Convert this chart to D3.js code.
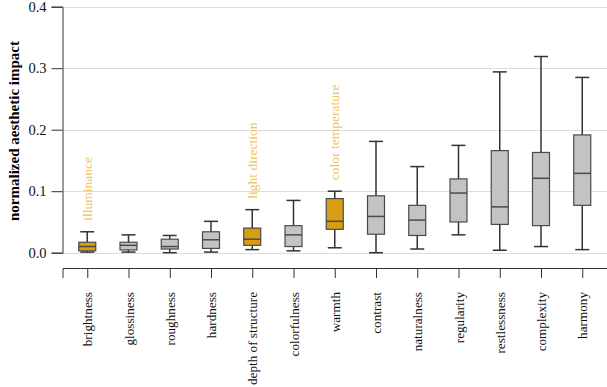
<!DOCTYPE html>
<meta charset="utf-8">
<title>normalized aesthetic impact</title>
<script src="https://d3js.org/d3.v7.min.js"></script>
<style>
	body { margin: 0; background: #fff; }
	svg, svg text { font-family: "Liberation Serif", "Times New Roman", serif; }
	.grid line { stroke: #dcdcdc; }
	.axis path, .axis line { stroke: #333; }
	.axis text { font-size: 12px; fill: #111; }
</style>
<svg id="chart" width="607" height="387"></svg>
<script>

var categories = ["brightness", "glossiness", "roughness", "hardness", "depth of structure", "colorfulness",
	"warmth", "contrast", "naturalness", "regularity", "restlessness", "complexity", "harmony"];

// whisker low, box low, median, box high, whisker high
var whiskerLow = [0.001, 0.001, 0.000, 0.001, 0.005, 0.003, 0.008, 0.000, 0.006, 0.029, 0.004, 0.010, 0.005];
var q1         = [0.003, 0.0045, 0.006, 0.007, 0.012, 0.010, 0.038, 0.030, 0.028, 0.050, 0.046, 0.044, 0.077];
var medians    = [0.010, 0.012, 0.010, 0.021, 0.022, 0.029, 0.051, 0.059, 0.053, 0.097, 0.0745, 0.121, 0.129];
var q3         = [0.017, 0.017, 0.022, 0.034, 0.040, 0.044, 0.088, 0.0925, 0.077, 0.120, 0.166, 0.163, 0.1915];
var whiskerHigh = [0.034, 0.029, 0.028, 0.051, 0.070, 0.085, 0.100, 0.181, 0.140, 0.1745, 0.294, 0.319, 0.285];

var highlighted = ["brightness", "depth of structure", "warmth"];
var annotations = [
	{cat: "brightness", text: "illuminance"},
	{cat: "depth of structure", text: "light direction"},
	{cat: "warmth", text: "color temperature"}
];
var yTicks = [0, 0.1, 0.2, 0.3, 0.4];

var data = categories.map(function(c, i) {
	return {cat: c, lo: whiskerLow[i], q1: q1[i], med: medians[i], q3: q3[i], hi: whiskerHigh[i]};
});

var svg = d3.select("#chart");
var plotLeft = 62.5, plotRight = 607, plotTop = 6.7, zeroY = 252.7, xAxisY = 268;

var y = d3.scaleLinear().domain([0, 0.4]).range([zeroY, plotTop]);
var x = d3.scalePoint().domain(categories).range([plotLeft, plotRight]).padding(0.6);

// grid
svg.append("g").attr("class", "grid")
	.selectAll("line").data(yTicks).enter().append("line")
	.attr("x1", plotLeft).attr("x2", plotRight)
	.attr("y1", function(d) { return Math.round(y(d)) + 0.5; })
	.attr("y2", function(d) { return Math.round(y(d)) + 0.5; });

// y axis
var yAxis = svg.append("g").attr("class", "axis")
	.attr("transform", "translate(" + plotLeft + ",0)")
	.call(d3.axisLeft(y).tickValues(yTicks).tickFormat(d3.format(".1f")).tickSizeOuter(0).tickSize(11).tickPadding(5));
yAxis.attr("font-family", null);
yAxis.selectAll("text").style("font-size", "14.5px");

svg.append("text")
	.attr("transform", "translate(14," + 131 + ") rotate(-90)")
	.attr("text-anchor", "middle")
	.attr("dy", "0.35em")
	.style("font-size", "15px").style("font-weight", "bold")
	.text("normalized aesthetic impact");

// x axis
var xAxis = svg.append("g").attr("class", "axis")
	.attr("transform", "translate(0," + xAxisY + ")")
	.call(d3.axisBottom(x).tickSizeOuter(0).tickSize(10));
xAxis.attr("font-family", null);
xAxis.selectAll("text")
	.attr("transform", "rotate(-90)")
	.attr("text-anchor", "end")
	.attr("x", -24).attr("y", 0).attr("dy", "0.35em")
	.style("font-size", "13.2px");

// boxes
var bw = 17, cw = 14;
var g = svg.append("g").selectAll("g").data(data).enter().append("g")
	.attr("transform", function(d) { return "translate(" + x(d.cat) + ",0)"; });

g.append("line")
	.attr("x1", 0).attr("x2", 0)
	.attr("y1", function(d) { return y(d.hi); })
	.attr("y2", function(d) { return y(d.lo); })
	.attr("stroke", "#333").attr("stroke-width", 1.5);
g.selectAll(".cap").data(function(d) { return [d.lo, d.hi]; }).enter().append("line")
	.attr("x1", -cw / 2).attr("x2", cw / 2)
	.attr("y1", function(v) { return y(v); }).attr("y2", function(v) { return y(v); })
	.attr("stroke", "#333").attr("stroke-width", 1.5);
g.append("rect")
	.attr("x", -bw / 2).attr("width", bw)
	.attr("y", function(d) { return y(d.q3); })
	.attr("height", function(d) { return y(d.q1) - y(d.q3); })
	.attr("fill", function(d) { return highlighted.indexOf(d.cat) >= 0 ? "#d89d12" : "#c3c3c3"; })
	.attr("stroke", "#4a4a4a").attr("stroke-width", 1.2);
g.append("line")
	.attr("x1", -bw / 2).attr("x2", bw / 2)
	.attr("y1", function(d) { return y(d.med); }).attr("y2", function(d) { return y(d.med); })
	.attr("stroke", "#4a4a4a").attr("stroke-width", 1.5);

// annotations
var hiByCat = {};
data.forEach(function(d) { hiByCat[d.cat] = d.hi; });
svg.append("g").selectAll("text").data(annotations).enter().append("text")
	.attr("transform", function(d) {
		return "translate(" + x(d.cat) + "," + (y(hiByCat[d.cat]) - 11) + ") rotate(-90)";
	})
	.attr("dy", "0.35em")
	.style("font-size", "13.5px").style("fill", "#f2c25e")
	.text(function(d) { return d.text; });

</script>
